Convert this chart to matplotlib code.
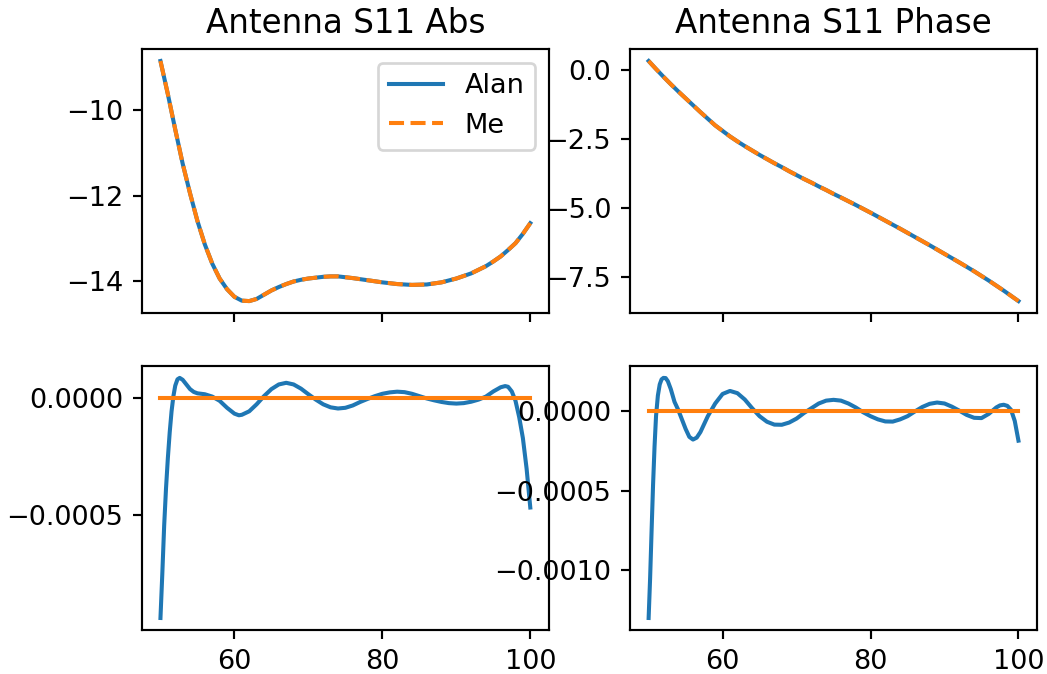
import numpy as np
import matplotlib
matplotlib.use("Agg")
import matplotlib.pyplot as plt

# frequency points of the S11 curves (MHz)
freq = [50, 51, 52, 53, 54, 55, 56, 57, 58, 59, 60, 61, 62, 63, 64, 65, 66, 67, 68, 69,
        70, 71, 72, 73, 74, 75, 76, 78, 80, 82, 84, 86, 88, 90, 92, 94, 95, 96, 97, 98,
        99, 100]
s11_abs = [-8.84, -9.62, -10.45, -11.25, -11.95, -12.6, -13.15, -13.6, -13.95, -14.2,
           -14.38, -14.47, -14.48, -14.43, -14.33, -14.23, -14.15, -14.08, -14.02, -13.98,
           -13.95, -13.93, -13.91, -13.9, -13.9, -13.92, -13.94, -13.99, -14.04, -14.08,
           -14.1, -14.09, -14.04, -13.95, -13.83, -13.66, -13.55, -13.43, -13.28, -13.12,
           -12.9, -12.65]
s11_phase = [0.33, 0.04, -0.24, -0.51, -0.77, -1.02, -1.27, -1.52, -1.76, -2.0,
             -2.2, -2.4, -2.58, -2.75, -2.91, -3.07, -3.22, -3.37, -3.51, -3.66,
             -3.8, -3.94, -4.07, -4.21, -4.34, -4.48, -4.61, -4.88, -5.16, -5.45,
             -5.74, -6.04, -6.34, -6.65, -6.96, -7.28, -7.45, -7.62, -7.8, -7.98,
             -8.17, -8.36]

# residuals (Alan - Me)
freq_res_abs = [50, 50.25, 50.5, 50.75, 51, 51.25, 51.5, 51.75, 52, 52.3, 52.6, 53, 53.5,
                54, 54.5, 55, 56, 57, 58, 59, 60, 60.6, 61, 62, 63, 64, 65, 66, 67, 68, 69,
                70, 71, 72, 73, 74, 75, 76, 77, 78, 79, 80, 81, 82, 83, 84, 85, 86, 87, 88,
                89, 90, 91, 92, 93, 94, 95, 96, 96.6, 97, 97.5, 98, 98.5, 99, 99.5, 100]
res_abs = np.array([-9.4, -7.5, -5.45, -3.85, -2.55, -1.45, -0.55, 0.1, 0.55, 0.82, 0.88,
                    0.8, 0.6, 0.4, 0.28, 0.22, 0.18, 0.08, -0.1, -0.4, -0.65, -0.72, -0.7,
                    -0.55, -0.25, 0.1, 0.4, 0.6, 0.67, 0.6, 0.42, 0.18, -0.05, -0.25, -0.38,
                    -0.43, -0.4, -0.3, -0.15, -0.02, 0.1, 0.2, 0.26, 0.29, 0.27, 0.2, 0.1,
                    0.0, -0.08, -0.15, -0.2, -0.22, -0.2, -0.14, -0.05, 0.08, 0.3, 0.48,
                    0.53, 0.5, 0.3, -0.1, -0.8, -1.7, -3.0, -4.67]) * 1e-4

freq_res_phase = [50, 50.2, 50.4, 50.6, 50.8, 51, 51.25, 51.5, 51.75, 52, 52.3, 52.6, 53,
                  53.5, 54, 54.5, 55, 55.5, 56, 56.5, 57, 57.5, 58, 58.5, 59, 60, 61, 62,
                  63, 64, 65, 66, 67, 68, 69, 70, 71, 72, 73, 74, 75, 76, 77, 78, 79, 80,
                  81, 82, 83, 84, 85, 86, 87, 88, 89, 90, 91, 92, 93, 94, 95, 96, 96.5, 97,
                  97.5, 98, 98.5, 99, 99.5, 100]
res_phase = np.array([-13.0, -10.5, -7.5, -4.6, -2.2, -0.3, 1.0, 1.7, 2.02, 2.11, 2.1, 1.9,
                      1.4, 0.6, 0.1, -0.5, -1.1, -1.6, -1.77, -1.65, -1.3, -0.8, -0.3, 0.1,
                      0.5, 1.1, 1.29, 1.15, 0.75, 0.2, -0.3, -0.65, -0.83, -0.84, -0.7,
                      -0.45, -0.1, 0.2, 0.5, 0.68, 0.73, 0.68, 0.5, 0.25, -0.05, -0.3, -0.5,
                      -0.63, -0.64, -0.5, -0.3, 0.0, 0.28, 0.48, 0.56, 0.5, 0.3, 0.05, -0.22,
                      -0.4, -0.42, -0.15, 0.05, 0.25, 0.38, 0.42, 0.35, 0.1, -0.6,
                      -1.84]) * 1e-4

# Me - Me
freq_zero = [50, 100]
zero = [0.0, 0.0]

dpi = 195
fig, axs = plt.subplots(2, 2, sharex=True, figsize=(1047 / dpi, 674 / dpi), dpi=dpi)
fig.subplots_adjust(left=0.1356, right=0.9904, top=0.9273, bottom=0.0653,
                    wspace=0.2, hspace=0.2)

axs[0, 0].plot(freq, s11_abs, label="Alan")
axs[0, 0].plot(freq, s11_abs, "--", label="Me")
axs[0, 0].set_title("Antenna S11 Abs")
axs[0, 0].legend(loc="upper right")

axs[0, 1].plot(freq, s11_phase, label="Alan")
axs[0, 1].plot(freq, s11_phase, "--", label="Me")
axs[0, 1].set_title("Antenna S11 Phase")

axs[1, 0].plot(freq_res_abs, res_abs)
axs[1, 0].plot(freq_zero, zero)

axs[1, 1].plot(freq_res_phase, res_phase)
axs[1, 1].plot(freq_zero, zero)

fig.savefig("out.png", dpi=dpi)
